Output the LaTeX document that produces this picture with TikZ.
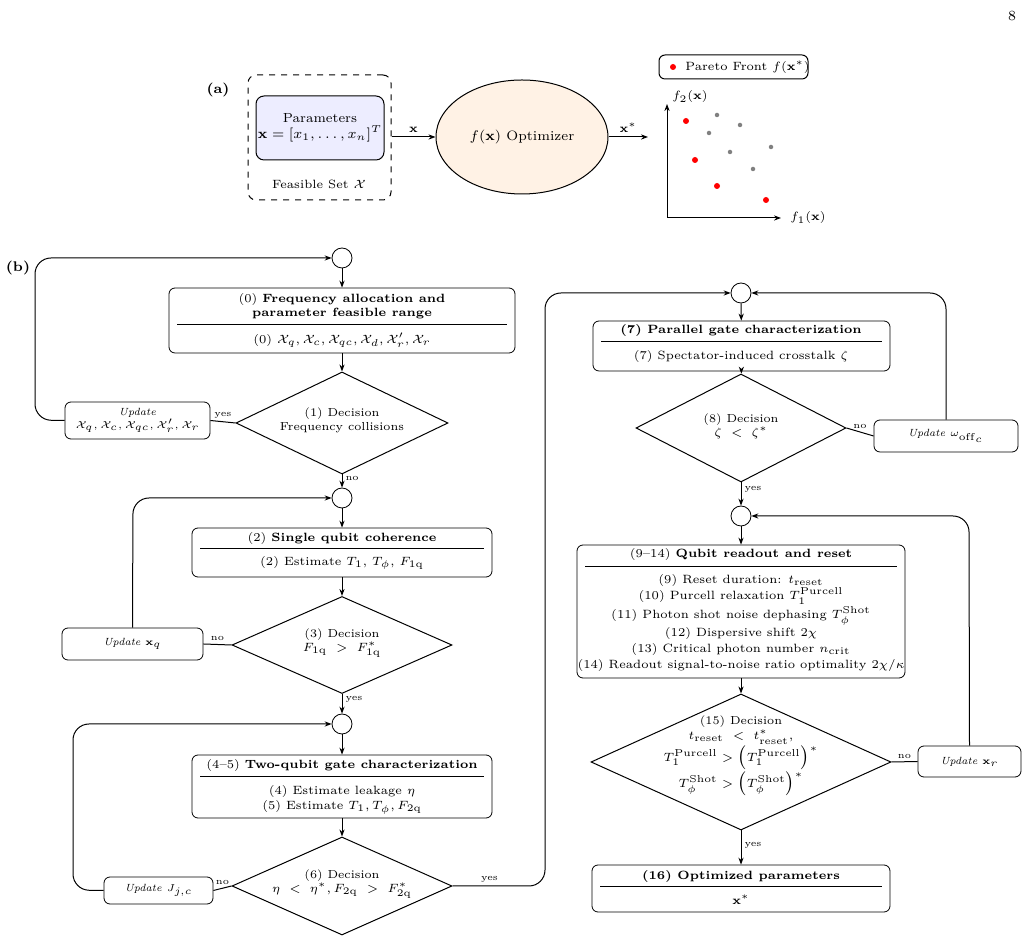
\documentclass[tikz,border=0pt]{standalone}
\usetikzlibrary{shapes.geometric,arrows.meta}
\def\u{0.5pt}
\begin{document}
\begin{tikzpicture}[x=0.5pt,y=-0.5pt,
  every node/.style={font=\fontsize{6}{7.2}\selectfont, inner sep=0pt},
  box/.style={draw, rounded corners=3, fill=white},
  ubox/.style={draw, rounded corners=3, fill=white, align=center, font=\fontsize{5.2}{6.4}\selectfont},
  dia/.style={draw, diamond, inner sep=0pt, line width=0.5pt},
  dt/.style={align=center, font=\fontsize{5.8}{7}\selectfont},
  circ/.style={draw, circle, minimum size=20*\u},
  arr/.style={-{Stealth[length=3.5pt,width=2.6pt]}, line width=0.5pt},
  ln/.style={line width=0.5pt},
  lab/.style={font=\fontsize{4.6}{5.5}\selectfont},
  rd/.style={circle, fill=red, minimum size=6*\u},
  gd/.style={circle, fill=gray, minimum size=4.5*\u}]
\useasboundingbox (0,0) rectangle (1029,945);
\node[font=\fontsize{7}{8}\selectfont] (pg) at (1012,16) {8};
% (a)
\node[font=\fontsize{7}{8}\selectfont\bfseries] (la) at (218,90) {(a)};
\node[draw, dashed, rounded corners=4, minimum width=143*\u, minimum height=125*\u, ln] (fs) at (319.5,137.5) {};
\node[draw, rounded corners=4, fill=blue!7, minimum width=128*\u, minimum height=64*\u, align=center, ln, font=\fontsize{6.6}{8}\selectfont] (par) at (320,128) {Parameters\\$\mathbf{x}=[x_1,\ldots,x_n]^T$};
\node (fst) at (319,184) {Feasible Set $\mathcal{X}$};
\node[draw, ellipse, fill=orange!10, minimum width=172*\u, minimum height=114*\u, ln, font=\fontsize{6.8}{8}\selectfont] (opt) at (522,137) {$f(\mathbf{x})$ Optimizer};
\draw[arr] (fs.east|-opt) -- node[above=4*\u, font=\fontsize{6.5}{8}\selectfont] {$\mathbf{x}$} (opt.west);
\coordinate (ae) at (648,137);
\draw[arr] (opt.east) -- node[above=4*\u, font=\fontsize{6.5}{8}\selectfont] {$\mathbf{x}^*$} (ae);
\coordinate (o) at (667,218);
\coordinate (yt) at (667,104);
\coordinate (xt) at (781,218);
\draw[arr] (o) -- (yt);
\draw[arr] (o) -- (xt);
\node (f2) at (690,97) {$f_2(\mathbf{x})$};
\node (f1) at (808,218) {$f_1(\mathbf{x})$};
\node[draw, rounded corners=3, minimum width=149*\u, minimum height=24*\u, ln] (leg) at (733.5,67) {};
\node[rd] (ld) at (673,67) {};
\node[anchor=west] (lt) at (685,67) {Pareto Front $f(\mathbf{x}^*)$};
\foreach \a/\b [count=\i] in {686/121,695/160,717/186,766/200} \node[rd] (r\i) at (\a,\b) {};
\foreach \a/\b [count=\i] in {717/115,740/125,709/133,730/152,771/147,753/169} \node[gd] (g\i) at (\a,\b) {};
% (b)
\node[font=\fontsize{7}{8}\selectfont\bfseries] (lb) at (18,268) {(b)};
% left column
\node[circ] (c0) at (342,258) {};
\node[box, minimum width=346*\u, minimum height=65*\u] (b0) at (342,320.5) {};
\node[align=center] (b0t) at (342,306) {(0) \textbf{Frequency allocation and}\\\textbf{parameter feasible range}};
\draw[ln] (177,325) -- (507,325);
\node (b0b) at (342,340) {(0) $\mathcal{X}_q,\mathcal{X}_c,\mathcal{X}_{qc},\mathcal{X}_d,\mathcal{X}'_r,\mathcal{X}_r$};
\node[dia, minimum width=212*\u, minimum height=102*\u] (d1) at (342,423) {};
\node[dt] (d1t) at (342,420) {(1) Decision\\Frequency collisions};
\node[ubox, minimum width=145*\u, minimum height=37*\u] (u1) at (137.5,420.5) {\textit{Update}\\$\mathcal{X}_q,\mathcal{X}_c,\mathcal{X}_{qc},\mathcal{X}'_r,\mathcal{X}_r$};
\draw[arr] (c0) -- (b0);
\draw[arr] (b0) -- (d1);
\draw[ln] (d1.west) -- (u1.east) node[lab, pos=0.5, above=3*\u] {yes};
\draw[arr, rounded corners=8] (u1.west) -- (35,420) -- (35,258) -- (c0.west);
\node[circ] (c1) at (342,498) {};
\draw[arr] (d1.south) -- node[lab, right=3*\u, pos=0.3] {no} (c1);
\node[box, minimum width=300*\u, minimum height=49*\u] (b2) at (342,552.5) {};
\node (b2t) at (342,539) {(2) \textbf{Single qubit coherence}};
\draw[ln] (200,549) -- (484,549);
\node (b2b) at (342,563) {(2) Estimate $T_1$, $T_\phi$, $F_{1\mathrm{q}}$};
\draw[arr] (c1) -- (b2);
\node[dia, minimum width=220*\u, minimum height=97*\u] (d3) at (342,645) {};
\node[dt] (d3t) at (342,643) {(3) Decision\\$F_{1\mathrm{q}}\ >\ F^*_{1\mathrm{q}}$};
\draw[arr] (b2) -- (d3);
\node[ubox, minimum width=141*\u, minimum height=32*\u] (u3) at (132.5,644) {\textit{Update} $\mathbf{x}_q$};
\draw[ln] (d3.west) -- (u3.east) node[lab, pos=0.5, above=3*\u] {no};
\draw[arr, rounded corners=8] (u3.north) -- (133,498) -- (c1.west);
\node[circ] (c2) at (342,724) {};
\draw[arr] (d3.south) -- node[lab, right=3*\u, pos=0.3] {yes} (c2);
\node[box, minimum width=300*\u, minimum height=63*\u] (b4) at (342,786.5) {};
\node (b4t) at (342,766) {(4--5) \textbf{Two-qubit gate characterization}};
\draw[ln] (200,777) -- (484,777);
\node[align=center] (b4b) at (342,800) {(4) Estimate leakage $\eta$\\(5) Estimate $T_1, T_\phi, F_{2\mathrm{q}}$};
\draw[arr] (c2) -- (b4);
\node[dia, minimum width=220*\u, minimum height=98*\u] (d6) at (342,886) {};
\node[dt] (d6t) at (342,884) {(6) Decision\\$\eta\ <\ \eta^*, F_{2\mathrm{q}}\ >\ F^*_{2\mathrm{q}}$};
\draw[arr] (b4) -- (d6);
\node[ubox, minimum width=109*\u, minimum height=27*\u] (u6) at (158.5,890.5) {\textit{Update} $J_{j,c}$};
\draw[ln] (d6.west) -- (u6.east) node[lab, pos=0.5, above=3*\u] {no};
\draw[arr, rounded corners=8] (u6.west) -- (73,890) -- (73,724) -- (c2.west);
% right column
\node[circ] (c3) at (741,293) {};
\draw[arr, rounded corners=8] (d6.east) -- node[lab, above=3*\u, pos=0.4] {yes} (545,886) -- (545,293) -- (c3.west);
\node[box, minimum width=297*\u, minimum height=50*\u] (b7) at (741.5,346) {};
\node (b7t) at (741,331) {\textbf{(7) Parallel gate characterization}};
\draw[ln] (601,342) -- (882,342);
\node (b7b) at (741,357) {(7) Spectator-induced crosstalk $\zeta$};
\draw[arr] (c3) -- (b7);
\node[dia, minimum width=210*\u, minimum height=108*\u] (d8) at (741,428) {};
\node[dt] (d8t) at (741,426) {(8) Decision\\$\zeta\ <\ \zeta^*$};
\draw[arr] (b7) -- (d8);
\node[ubox, minimum width=144*\u, minimum height=32*\u] (u8) at (946,436) {\textit{Update} $\omega_{\mathrm{off}_c}$};
\draw[ln] (d8.east) -- (u8.west) node[lab, pos=0.5, above=3*\u] {no};
\draw[arr, rounded corners=8] (u8.north) -- (946,293) -- (c3.east);
\node[circ] (c4) at (741,516) {};
\draw[arr] (d8.south) -- node[lab, right=3*\u, pos=0.3] {yes} (c4);
\node[box, minimum width=328*\u, minimum height=133*\u] (b9) at (741,611.5) {};
\node (b9t) at (741,555) {(9--14) \textbf{Qubit readout and reset}};
\draw[ln] (585,567) -- (897,567);
\node[align=center, font=\fontsize{6}{7.9}\selectfont] (b9b) at (741,623) {(9) Reset duration: $t_{\mathrm{reset}}$\\(10) Purcell relaxation $T_1^{\mathrm{Purcell}}$\\(11) Photon shot noise dephasing $T_\phi^{\mathrm{Shot}}$\\(12) Dispersive shift $2\chi$\\(13) Critical photon number $n_{\mathrm{crit}}$\\(14) Readout signal-to-noise ratio optimality $2\chi/\kappa$};
\draw[arr] (c4) -- (b9);
\node[dia, minimum width=300*\u, minimum height=136*\u] (d15) at (741,762) {};
\node[dt, font=\fontsize{5.8}{7.6}\selectfont] (d15t) at (741,756) {(15) Decision\\$t_{\mathrm{reset}}\ <\ t^*_{\mathrm{reset}},$\\$T_1^{\mathrm{Purcell}}>\left(T_1^{\mathrm{Purcell}}\right)^*$\\$T_\phi^{\mathrm{Shot}}>\left(T_\phi^{\mathrm{Shot}}\right)^*$};
\draw[arr] (b9) -- (d15);
\node[ubox, minimum width=103*\u, minimum height=31*\u] (u15) at (969.5,761.5) {\textit{Update} $\mathbf{x}_r$};
\draw[ln] (d15.east) -- (u15.west) node[lab, pos=0.5, above=3*\u] {no};
\draw[arr, rounded corners=8] (u15.north) -- (969,516) -- (c4.east);
\node[box, minimum width=298*\u, minimum height=47*\u] (b16) at (741,888.5) {};
\node (b16t) at (741,876) {\textbf{(16) Optimized parameters}};
\draw[ln] (600,887) -- (882,887);
\node (b16b) at (741,900) {$\mathbf{x}^*$};
\draw[arr] (d15.south) -- node[lab, right=3*\u, pos=0.45] {yes} (b16);
\end{tikzpicture}
\end{document}
